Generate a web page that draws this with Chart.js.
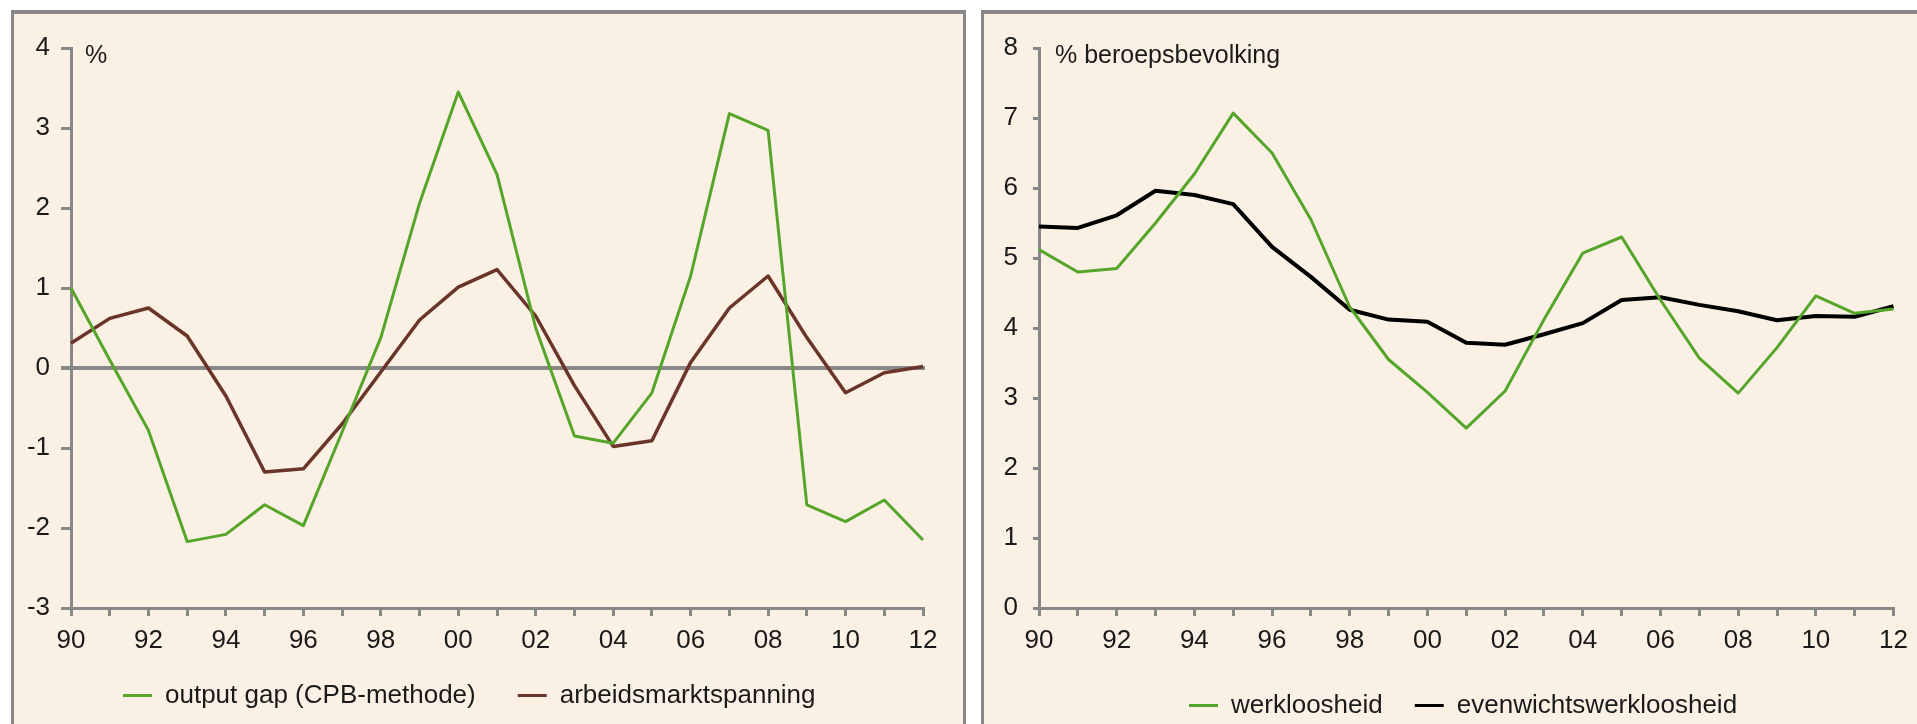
<!DOCTYPE html>
<html><head><meta charset="utf-8">
<script src="https://cdn.jsdelivr.net/npm/chart.js@4.4.1/dist/chart.umd.min.js"></script>
<style>
html,body{margin:0;padding:0;background:#fff;width:1917px;height:724px;overflow:hidden;}
.panel{position:absolute;background:#FAF0E4;border-style:solid;border-color:#888;box-sizing:border-box;}
#p1{left:11px;top:10px;width:955px;height:800px;border-width:4px 3px 0 3px;}
#p2{left:981px;top:10px;width:950px;height:800px;border-width:4px 0 0 3px;}
.cw{position:absolute;}
#c1w{left:14px;top:14px;width:949px;height:760px;}
#c2w{left:984px;top:14px;width:933px;height:760px;}
</style></head>
<body>
<div class="panel" id="p1"></div><div class="panel" id="p2"></div>
<div class="cw" id="c1w"><canvas id="c1" width="949" height="760"></canvas></div>
<div class="cw" id="c2w"><canvas id="c2" width="933" height="760"></canvas></div>
<script>
// ---- data ----
const years = ['90','91','92','93','94','95','96','97','98','99','00','01','02','03','04','05','06','07','08','09','10','11','12'];
const xTickLabels = ['90','','92','','94','','96','','98','','00','','02','','04','','06','','08','','10','','12'];
const outputGap = [1.0, 0.1, -0.78, -2.17, -2.08, -1.71, -1.97, -0.8, 0.38, 2.06, 3.45, 2.42, 0.5, -0.85, -0.94, -0.31, 1.15, 3.18, 2.97, -1.71, -1.92, -1.65, -2.15];
const arbeidsmarktspanning = [0.31, 0.62, 0.75, 0.4, -0.35, -1.3, -1.26, -0.7, -0.05, 0.6, 1.01, 1.23, 0.65, -0.22, -0.98, -0.91, 0.07, 0.75, 1.15, 0.38, -0.31, -0.06, 0.02];
const werkloosheid = [5.12, 4.8, 4.85, 5.5, 6.2, 7.07, 6.5, 5.55, 4.3, 3.55, 3.08, 2.57, 3.1, 4.12, 5.07, 5.3, 4.4, 3.57, 3.07, 3.72, 4.46, 4.21, 4.27];
const evenwichtswerkloosheid = [5.45, 5.43, 5.61, 5.96, 5.9, 5.77, 5.16, 4.73, 4.26, 4.12, 4.09, 3.79, 3.76, 3.91, 4.07, 4.4, 4.44, 4.33, 4.24, 4.11, 4.17, 4.16, 4.31];
const leftUnit = '%';
const rightUnit = '% beroepsbevolking';
const leftNames = ['output gap (CPB-methode)', 'arbeidsmarktspanning'];
const rightNames = ['werkloosheid', 'evenwichtswerkloosheid'];

// ---- styles ----
const FONT = '"Liberation Sans", Arial, sans-serif';
const GREEN = '#55a52a';
const BROWN = '#6a3528';
const BLACK = '#000000';
const AXIS = '#888888';
const TEXT = '#1a1a1a';

const zeroLine = {
  id: 'zeroLine',
  beforeDatasetsDraw(chart, args, opts) {
    if (!opts || !opts.show) return;
    const {ctx, chartArea, scales} = chart;
    const y = scales.y.getPixelForValue(0);
    ctx.save();
    ctx.strokeStyle = AXIS; ctx.lineWidth = 4;
    ctx.beginPath(); ctx.moveTo(chartArea.left - 10, y); ctx.lineTo(chartArea.right + 2, y); ctx.stroke();
    ctx.restore();
  }
};
const unitLabel = {
  id: 'unitLabel',
  afterDraw(chart, args, opts) {
    const {ctx, chartArea} = chart;
    ctx.save();
    ctx.font = '25px ' + FONT; ctx.fillStyle = TEXT;
    ctx.textBaseline = 'alphabetic'; ctx.textAlign = 'left';
    ctx.fillText(opts.text, chartArea.left + opts.dx, opts.baseline);
    ctx.restore();
  }
};
const legendPlace = {
  id: 'legendPlace',
  beforeDraw(chart, args, opts) {
    const lg = chart.legend; if (!lg) return;
    const w = lg.right - lg.left, h = lg.bottom - lg.top;
    lg.left = opts.left; lg.right = opts.left + w;
    lg.top = opts.top; lg.bottom = opts.top + h;
  }
};

function makeChart(id, cfg) {
  return new Chart(document.getElementById(id), {
    type: 'line',
    data: {
      labels: years,
      datasets: cfg.series.map(s => ({
        label: s.name, data: s.data, borderColor: s.color, backgroundColor: s.color,
        borderWidth: s.width, pointRadius: 0, pointHoverRadius: 0, tension: 0, fill: false,
        borderJoinStyle: 'round'
      }))
    },
    options: {
      responsive: false, animation: false, devicePixelRatio: 1,
      layout: {padding: {left: 0, right: cfg.padRight, top: 34, bottom: cfg.padBottom}},
      plugins: {
        tooltip: {enabled: false},
        legend: {
          position: 'bottom', align: 'start',
          labels: {
            boxWidth: 29, boxHeight: 3, padding: cfg.legendPad, color: TEXT,
            font: {family: FONT, size: 26},
            generateLabels(chart) {
              return chart.data.datasets.map((d, i) => ({
                text: d.label, fillStyle: d.borderColor, strokeStyle: d.borderColor,
                lineWidth: 0, hidden: false, datasetIndex: i, fontColor: TEXT
              }));
            }
          }
        },
        zeroLine: {show: cfg.zero},
        unitLabel: {text: cfg.unit, dx: cfg.unitDx, baseline: 49},
        legendPlace: {left: cfg.legendLeft, top: cfg.legendTop}
      },
      scales: {
        x: {
          type: 'category', offset: false,
          afterFit(s) { s.height = 60; },
          grid: {drawOnChartArea: false, drawTicks: true, tickLength: 8, color: AXIS, lineWidth: 3, offset: false},
          border: {color: AXIS, width: 3},
          ticks: {autoSkip: false, maxRotation: 0, padding: 9, color: TEXT, font: {family: FONT, size: 26},
            callback: (v, i) => xTickLabels[i]}
        },
        y: {
          min: cfg.min, max: cfg.max,
          afterFit(s) { s.width = cfg.yWidth; },
          grid: {drawOnChartArea: false, drawTicks: true, tickLength: cfg.yTick, color: AXIS, lineWidth: 3},
          border: {color: AXIS, width: 3},
          ticks: {stepSize: 1, padding: cfg.yPad, color: TEXT, font: {family: FONT, size: 26}}
        }
      }
    },
    plugins: [zeroLine, unitLabel, legendPlace]
  });
}

makeChart('c1', {
  series: [
    {name: leftNames[0], data: outputGap, color: GREEN, width: 3},
    {name: leftNames[1], data: arbeidsmarktspanning, color: BROWN, width: 3.5}
  ],
  min: -3, max: 4, padRight: 40, padBottom: 28, yWidth: 57, yTick: 10, yPad: 11,
  legendPad: 42, legendLeft: 67, legendTop: 626.5,
  zero: true, unit: leftUnit, unitDx: 14
});
makeChart('c2', {
  series: [
    {name: rightNames[0], data: werkloosheid, color: GREEN, width: 3},
    {name: rightNames[1], data: evenwichtswerkloosheid, color: BLACK, width: 4}
  ],
  min: 0, max: 8, padRight: 21, padBottom: 38, yWidth: 55, yTick: 6, yPad: 15,
  legendPad: 32, legendLeft: 173, legendTop: 646.5,
  zero: false, unit: rightUnit, unitDx: 16
});
</script>
</body></html>
